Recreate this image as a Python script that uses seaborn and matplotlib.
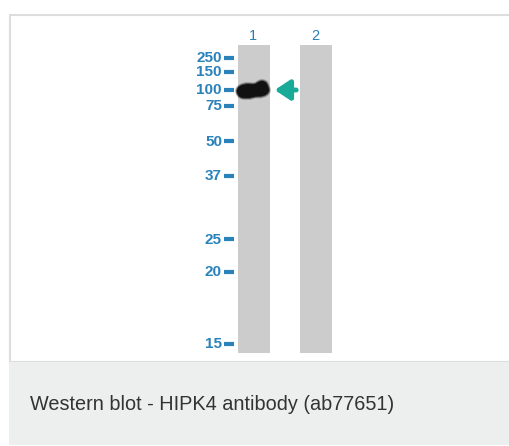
import matplotlib
matplotlib.use("Agg")
import matplotlib.pyplot as plt
import matplotlib.patches as mpatches
import numpy as np
import pandas as pd
import seaborn as sns

# ladder markers (kDa) and where each one ran on the blot (px from top)
marker_kda = ["250", "150", "100", "75", "50", "37", "25", "20", "15"]
marker_pos = [58, 72, 90, 106, 141, 176, 239, 272, 344]

lane_names = ["1", "2"]
lane_center = [254, 316]
lane_width = 32
lane_top = 45
lane_bottom = 353

# detected band: lane 1 around 100 kDa
band_lane = "1"
band_pos = 90

caption = "Western blot - HIPK4 antibody (ab77651)"

sns.set_theme(style="white")
plt.rcParams["font.family"] = ["Liberation Sans", "DejaVu Sans"]

fig = plt.figure(figsize=(5.10, 4.46), dpi=100)
ax = fig.add_axes([0, 0, 1, 1])

# frame + caption box
ax.add_patch(mpatches.Rectangle((10, 15), 510, 347, facecolor="white",
                                edgecolor="#dddddd", lw=1.5))
ax.add_patch(mpatches.Rectangle((9, 362), 501, 83, facecolor="#edeeee",
                                edgecolor="none"))
ax.text(30, 405, caption, fontsize=14.3, color="#333333", va="center", ha="left")

# lanes
ax.bar(lane_center, lane_bottom - lane_top, width=lane_width, bottom=lane_top,
       color="#cccccc", linewidth=0)
for name, x in zip(lane_names, lane_center):
    ax.text(x - 1, 36, name, fontsize=10.5, color="#2a7fb5", ha="center", va="center")

# ladder labels and dashes
markers = pd.DataFrame({"kda": marker_kda, "y": marker_pos})
for _, row in markers.iterrows():
    ax.text(222, row["y"] + 0.5, row["kda"], fontsize=11, color="#2a82ba",
            fontweight="semibold", ha="right", va="center")
sns.scatterplot(data=markers, x=[229] * len(markers), y="y", marker="_",
                s=55, linewidth=3, color="#2a82ba", ax=ax, legend=False)

# band blob (soft edge + dark core)
bx = lane_center[lane_names.index(band_lane)]
blobs = [(-6, 1, 22, 14), (5, 0, 20, 13), (8, -4, 11, 10), (-11, 2, 10, 11)]
for grow, alpha in [(4, 0.25), (2, 0.5), (0, 1.0)]:
    for dx, dy, w, h in blobs:
        ax.add_patch(mpatches.Ellipse((bx + dx, band_pos + dy), w + grow, h + grow,
                                      facecolor="#111111", edgecolor="none",
                                      alpha=alpha))

# arrow
ax.annotate("", xy=(272, band_pos), xytext=(299, band_pos),
            arrowprops=dict(arrowstyle="-|>,head_length=0.75,head_width=0.5",
                            color="#1aaa98", lw=3.5))

ax.set_xlim(0, 510)
ax.set_ylim(446, 0)
ax.axis("off")

fig.savefig("out.png", dpi=100)
